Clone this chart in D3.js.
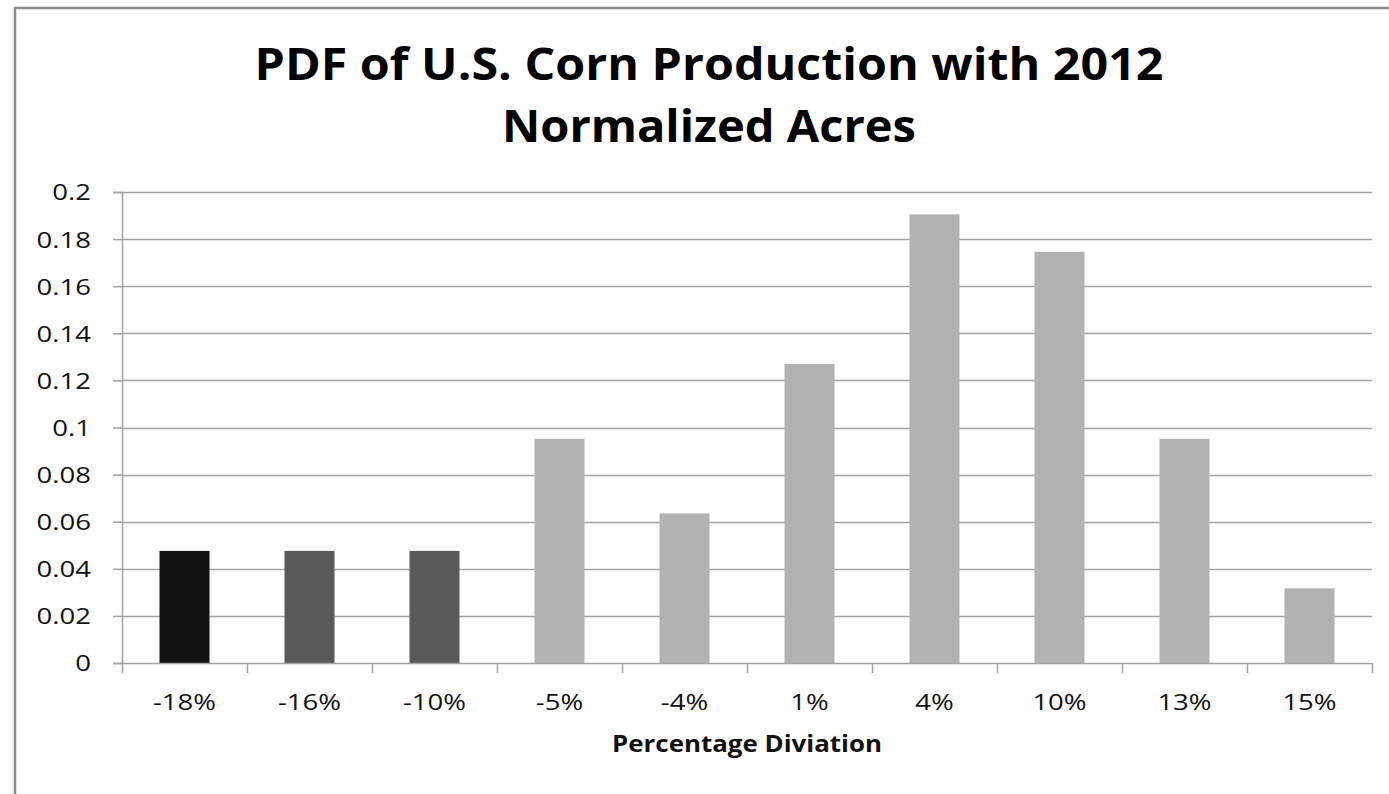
<!DOCTYPE html>
<html>
<head>
<meta charset="utf-8">
<script src="https://cdn.jsdelivr.net/npm/d3@7"></script>
<style>
  html, body { margin: 0; padding: 0; background: #fff; }
  svg { display: block; }
  text { font-family: "Open Sans", "DejaVu Sans", sans-serif; }
</style>
</head>
<body>
<svg id="chart" width="1389" height="794"></svg>
<script>
// Percentage deviation bins and their probabilities
const categories = ["-18%", "-16%", "-10%", "-5%", "-4%", "1%", "4%", "10%", "13%", "15%"];
const probabilities = [0.0476, 0.0476, 0.0476, 0.0952, 0.0635, 0.127, 0.1905, 0.1746, 0.0952, 0.0317];
const barShades = ["#111111", "#595959", "#595959", "#b2b2b2", "#b2b2b2", "#b2b2b2", "#b2b2b2", "#b2b2b2", "#b2b2b2", "#b2b2b2"];
const yTicks = [0, 0.02, 0.04, 0.06, 0.08, 0.1, 0.12, 0.14, 0.16, 0.18, 0.2];
const titleLines = ["PDF of U.S. Corn Production with 2012", "Normalized Acres"];
const xAxisTitle = "Percentage Diviation";

const svg = d3.select("#chart");
const plot = { left: 122, right: 1372, top: 192, bottom: 663 };
const gridColor = "#a3a3a3";
const labelStretch = 1.25;

// widen a text element horizontally by a factor
function stretch(sel, k) {
  sel.each(function () {
    const w = this.getComputedTextLength();
    d3.select(this).attr("textLength", w * k).attr("lengthAdjust", "spacingAndGlyphs");
  });
}

// Outer chart frame
svg.append("rect")
  .attr("x", 15).attr("y", 8)
  .attr("width", 1400).attr("height", 820)
  .attr("fill", "#fff")
  .attr("stroke", "#8c8c8c")
  .attr("stroke-width", 2.5);

const x = d3.scaleBand()
  .domain(categories)
  .range([plot.left, plot.right])
  .paddingInner(0.6)
  .paddingOuter(0.3);

const y = d3.scaleLinear()
  .domain([0, 0.2])
  .range([plot.bottom, plot.top]);

// Horizontal gridlines
svg.append("g")
  .selectAll("line")
  .data(yTicks.filter(d => d > 0))
  .join("line")
  .attr("x1", plot.left).attr("x2", plot.right)
  .attr("y1", d => Math.round(y(d)) + 0.5)
  .attr("y2", d => Math.round(y(d)) + 0.5)
  .attr("stroke", gridColor)
  .attr("stroke-width", 1.5);

// Bars
svg.append("g")
  .selectAll("rect")
  .data(categories)
  .join("rect")
  .attr("x", d => x(d))
  .attr("width", x.bandwidth())
  .attr("y", (d, i) => y(probabilities[i]))
  .attr("height", (d, i) => y(0) - y(probabilities[i]))
  .attr("fill", (d, i) => barShades[i]);

// Y axis
const yAxis = d3.axisLeft(y)
  .tickValues(yTicks)
  .tickSize(9)
  .tickPadding(22)
  .tickFormat(d => d3.format("~g")(d));
const yg = svg.append("g")
  .attr("transform", `translate(${plot.left},0)`)
  .call(yAxis);
yg.attr("font-size", null).attr("font-family", null);
yg.select(".domain").attr("stroke", gridColor).attr("stroke-width", 1.5);
yg.selectAll(".tick line").attr("stroke", gridColor).attr("stroke-width", 1.5);
yg.selectAll(".tick text")
  .attr("font-size", 22)
  .attr("fill", "#111")
  .attr("dy", "0.36em")
  .call(stretch, labelStretch);

// X axis: labels centred in bands, tick marks on band boundaries
const boundaries = d3.range(categories.length + 1).map(i => plot.left + i * (plot.right - plot.left) / categories.length);
const xg = svg.append("g");
xg.append("line")
  .attr("x1", plot.left).attr("x2", plot.right)
  .attr("y1", plot.bottom + 0.5).attr("y2", plot.bottom + 0.5)
  .attr("stroke", gridColor).attr("stroke-width", 1.5);
xg.selectAll("line.tick")
  .data(boundaries)
  .join("line")
  .attr("class", "tick")
  .attr("x1", d => Math.round(d) + 0.5).attr("x2", d => Math.round(d) + 0.5)
  .attr("y1", plot.bottom).attr("y2", plot.bottom + 10)
  .attr("stroke", gridColor).attr("stroke-width", 1.5);
xg.selectAll("text")
  .data(categories)
  .join("text")
  .attr("x", d => x(d) + x.bandwidth() / 2)
  .attr("y", 710)
  .attr("text-anchor", "middle")
  .attr("font-size", 22)
  .attr("fill", "#111")
  .text(d => d)
  .call(stretch, labelStretch);

// Axis title
svg.append("text")
  .attr("x", (plot.left + plot.right) / 2)
  .attr("y", 752)
  .attr("text-anchor", "middle")
  .attr("font-size", 23)
  .attr("font-weight", "bold")
  .attr("fill", "#111")
  .attr("textLength", 270)
  .attr("lengthAdjust", "spacingAndGlyphs")
  .text(xAxisTitle);

// Chart title (two lines)
const titleWidths = [909, 414];
const titleBaselines = [80, 142];
svg.append("g")
  .selectAll("text")
  .data(titleLines)
  .join("text")
  .attr("x", 709)
  .attr("y", (d, i) => titleBaselines[i])
  .attr("text-anchor", "middle")
  .attr("font-size", 45)
  .attr("font-weight", "bold")
  .attr("fill", "#000")
  .attr("textLength", (d, i) => titleWidths[i])
  .attr("lengthAdjust", "spacingAndGlyphs")
  .text(d => d);
</script>
</body>
</html>
